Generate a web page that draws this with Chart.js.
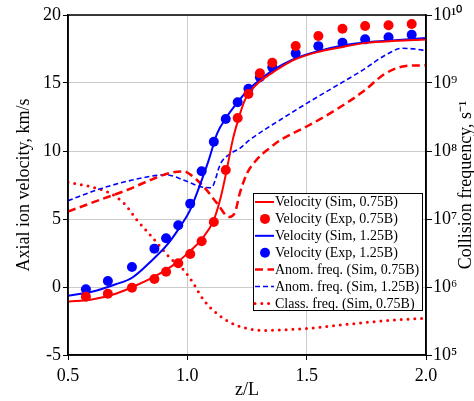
<!DOCTYPE html>
<html>
<head>
<meta charset="utf-8">
<script src="https://cdn.jsdelivr.net/npm/chart.js@4.4.1/dist/chart.umd.min.js"></script>
<style>
  html, body { margin: 0; padding: 0; background: #fff; }
  #wrap { width: 474px; height: 401px; }
</style>
</head>
<body>
<div id="wrap"><canvas id="chart"></canvas></div>
<script>
// experiment (points)
var zExp = [0.575, 0.667, 0.768, 0.862, 0.911, 0.962, 1.012, 1.06, 1.111, 1.161, 1.211, 1.256, 1.304, 1.356, 1.454, 1.549, 1.65, 1.745, 1.843, 1.94];
var vExp075 = [-0.71, -0.49, -0.05, 0.59, 1.12, 1.74, 2.43, 3.36, 4.78, 8.6, 12.43, 14.19, 15.71, 16.49, 17.72, 18.46, 18.99, 19.19, 19.24, 19.34];
var vExp125 = [-0.17, 0.44, 1.47, 2.82, 3.58, 4.54, 6.13, 8.51, 10.68, 12.35, 13.59, 14.58, 15.42, 16.15, 17.18, 17.71, 17.96, 18.21, 18.36, 18.55];

// simulated velocity
var zSim075 = [0.5, 0.6, 0.7, 0.77, 0.86, 0.96, 1.01, 1.06, 1.11, 1.14, 1.165, 1.19, 1.215, 1.24, 1.26, 1.3, 1.36, 1.44, 1.54, 1.65, 1.75, 1.87, 2.0];
var vSim075 = [-1.08, -0.92, -0.5, 0.0, 0.74, 1.85, 2.62, 3.5, 4.9, 6.6, 8.6, 10.8, 12.4, 13.7, 14.3, 15.05, 15.8, 16.65, 17.25, 17.65, 17.95, 18.1, 18.2];
var zSim125 = [0.5, 0.6, 0.7, 0.77, 0.86, 0.915, 0.97, 1.01, 1.055, 1.09, 1.125, 1.165, 1.207, 1.255, 1.304, 1.36, 1.443, 1.54, 1.65, 1.75, 1.87, 2.0];
var vSim125 = [-0.64, -0.35, 0.2, 0.7, 2.1, 3.09, 4.44, 5.6, 7.6, 9.35, 11.3, 12.5, 13.5, 14.5, 15.22, 15.96, 16.74, 17.3, 17.75, 18.0, 18.15, 18.3];

// collision frequencies, log10(s^-1)
var zAnom075 = [0.5, 0.64, 0.75, 0.85, 0.93, 0.985, 1.01, 1.07, 1.125, 1.175, 1.2, 1.22, 1.25, 1.29, 1.34, 1.39, 1.5, 1.62, 1.735, 1.83, 1.915, 2.0];
var lgAnom075 = [7.11, 7.29, 7.43, 7.58, 7.68, 7.70, 7.66, 7.47, 7.23, 7.03, 7.1, 7.38, 7.67, 7.87, 8.03, 8.16, 8.36, 8.6, 8.87, 9.14, 9.25, 9.26];
var zAnom125 = [0.5, 0.64, 0.82, 0.91, 1.0, 1.055, 1.1, 1.14, 1.18, 1.22, 1.26, 1.39, 1.5, 1.62, 1.735, 1.83, 1.9, 1.955, 2.0];
var lgAnom125 = [7.27, 7.45, 7.61, 7.65, 7.55, 7.475, 7.46, 7.82, 7.96, 8.04, 8.16, 8.46, 8.70, 8.95, 9.19, 9.41, 9.51, 9.50, 9.475];
var zClass075 = [0.5, 0.6, 0.665, 0.735, 0.79, 0.846, 0.93, 0.985, 1.026, 1.068, 1.124, 1.179, 1.25, 1.32, 1.4, 1.5, 1.64, 1.78, 1.915, 2.0];
var lgClass075 = [7.54, 7.47, 7.40, 7.23, 6.98, 6.76, 6.42, 6.25, 6.05, 5.81, 5.61, 5.48, 5.39, 5.36, 5.37, 5.39, 5.44, 5.49, 5.525, 5.54];

var freqTickLabels = ['10\u2075', '10\u2076', '10\u2077', '10\u2078', '10\u2079', '10\u00b9\u2070'];

var FONT = "'Liberation Serif', 'Times New Roman', serif";

function pts(xs, ys) {
  return xs.map(function(x, i){ return {x: x, y: ys[i]}; });
}
function logPts(xs, ys) {
  return xs.map(function(x, i){ return {x: x, y: Math.pow(10, ys[i])}; });
}

var datasets = [
  { label: 'Velocity (Sim, 0.75B)', data: pts(zSim075, vSim075), yAxisID: 'y',
    borderColor: '#ff0000', borderWidth: 2, pointRadius: 0, cubicInterpolationMode: 'monotone' },
  { label: 'Velocity (Exp, 0.75B)', data: pts(zExp, vExp075), yAxisID: 'y', showLine: false,
    backgroundColor: '#ff0000', borderColor: '#ff0000', pointRadius: 5, pointBorderWidth: 0 },
  { label: 'Velocity (Sim, 1.25B)', data: pts(zSim125, vSim125), yAxisID: 'y',
    borderColor: '#0000ff', borderWidth: 2, pointRadius: 0, cubicInterpolationMode: 'monotone' },
  { label: 'Velocity (Exp, 1.25B)', data: pts(zExp, vExp125), yAxisID: 'y', showLine: false,
    backgroundColor: '#0000ff', borderColor: '#0000ff', pointRadius: 5, pointBorderWidth: 0 },
  { label: 'Anom. freq. (Sim, 0.75B)', data: logPts(zAnom075, lgAnom075), yAxisID: 'y2',
    borderColor: '#ff0000', borderWidth: 2.5, borderDash: [8, 4.5], pointRadius: 0, cubicInterpolationMode: 'monotone' },
  { label: 'Anom. freq. (Sim, 1.25B)', data: logPts(zAnom125, lgAnom125), yAxisID: 'y2',
    borderColor: '#0000ff', borderWidth: 1.6, borderDash: [5, 3], pointRadius: 0, cubicInterpolationMode: 'monotone' },
  { label: 'Class. freq. (Sim, 0.75B)', data: logPts(zClass075, lgClass075), yAxisID: 'y2',
    borderColor: '#ff0000', borderWidth: 3, borderDash: [0, 6.8], borderCapStyle: 'round', pointRadius: 0, cubicInterpolationMode: 'monotone' }
];

// frame, right title, legend in the plot
var extras = {
  id: 'extras',
  afterDraw: function(chart) {
    var ctx = chart.ctx, a = chart.chartArea;
    ctx.save();
    ctx.strokeStyle = '#000';
    ctx.lineWidth = 1.5;
    ctx.strokeRect(a.left, a.top, a.right - a.left, a.bottom - a.top);

    ctx.fillStyle = '#000';
    ctx.font = '18px ' + FONT;
    ctx.translate(466, (a.top + a.bottom) / 2);
    ctx.rotate(-Math.PI / 2);
    ctx.textAlign = 'center';
    ctx.textBaseline = 'middle';
    ctx.fillText('Collision frequency, s\u207b\u00b9', 0, 0);
    ctx.restore();

    // legend
    var bx = 253, by = 193, bw = 169, bh = 117, row = 16.9;
    ctx.save();
    ctx.fillStyle = '#fff';
    ctx.fillRect(bx, by, bw, bh);
    ctx.strokeStyle = '#000';
    ctx.lineWidth = 1;
    ctx.strokeRect(bx + 0.5, by + 0.5, bw, bh);
    ctx.font = '14px ' + FONT;
    ctx.textBaseline = 'middle';
    chart.data.datasets.forEach(function(ds, i) {
      var cy = by + 9 + i * row;
      if (ds.showLine === false) {
        ctx.fillStyle = ds.backgroundColor;
        ctx.beginPath();
        ctx.arc(265, cy, 5, 0, Math.PI * 2);
        ctx.fill();
      } else {
        ctx.strokeStyle = ds.borderColor;
        ctx.lineWidth = ds.borderWidth;
        ctx.setLineDash(ds.borderDash || []);
        ctx.lineCap = ds.borderCapStyle || 'butt';
        ctx.beginPath();
        ctx.moveTo(255, cy);
        ctx.lineTo(274, cy);
        ctx.stroke();
        ctx.setLineDash([]);
        ctx.lineCap = 'butt';
      }
      ctx.fillStyle = '#000';
      ctx.fillText(ds.label, 275, cy + 0.5);
    });
    ctx.restore();
  }
};

new Chart(document.getElementById('chart').getContext('2d'), {
  type: 'line',
  data: { datasets: datasets },
  plugins: [extras],
  options: {
    responsive: true,
    maintainAspectRatio: false,
    animation: false,
    layout: { padding: { top: 15, left: 0, right: 0, bottom: 0 } },
    plugins: { legend: { display: false }, tooltip: { enabled: false } },
    scales: {
      x: {
        type: 'linear', min: 0.5, max: 2.0,
        afterFit: function(s){ s.height = 46; },
        ticks: { stepSize: 0.5, color: '#000', font: { family: FONT, size: 18 }, padding: 5,
          callback: function(v){ return v.toFixed(1); } },
        grid: { color: '#cccccc', lineWidth: 1, tickColor: '#000', tickLength: 5 },
        border: { color: '#000', width: 1.5 },
        title: { display: true, text: 'z/L', color: '#000', font: { family: FONT, size: 18 }, padding: { top: 0, bottom: 0 } }
      },
      y: {
        type: 'linear', position: 'left', min: -5, max: 20,
        afterFit: function(s){ s.width = 68; },
        ticks: { stepSize: 5, color: '#000', font: { family: FONT, size: 18 }, padding: 2 },
        grid: { color: '#cccccc', lineWidth: 1, tickColor: '#000', tickLength: 5 },
        border: { color: '#000', width: 1.5 },
        title: { display: true, text: 'Axial ion velocity, km/s', color: '#000', font: { family: FONT, size: 18 }, padding: { top: 13, bottom: 0 } }
      },
      y2: {
        type: 'logarithmic', position: 'right', min: 1e5, max: 1e10,
        afterFit: function(s){ s.width = 48; },
        afterBuildTicks: function(s){
          s.ticks = freqTickLabels.map(function(t, i){ return { value: Math.pow(10, 5 + i), major: true }; });
        },
        ticks: { color: '#000', font: { family: FONT, size: 18 }, padding: 1,
          callback: function(v, i){ return freqTickLabels[i]; } },
        grid: { drawOnChartArea: false, tickColor: '#000', tickLength: 6 },
        border: { color: '#000', width: 1.5 }
      }
    }
  }
});
</script>
</body>
</html>
